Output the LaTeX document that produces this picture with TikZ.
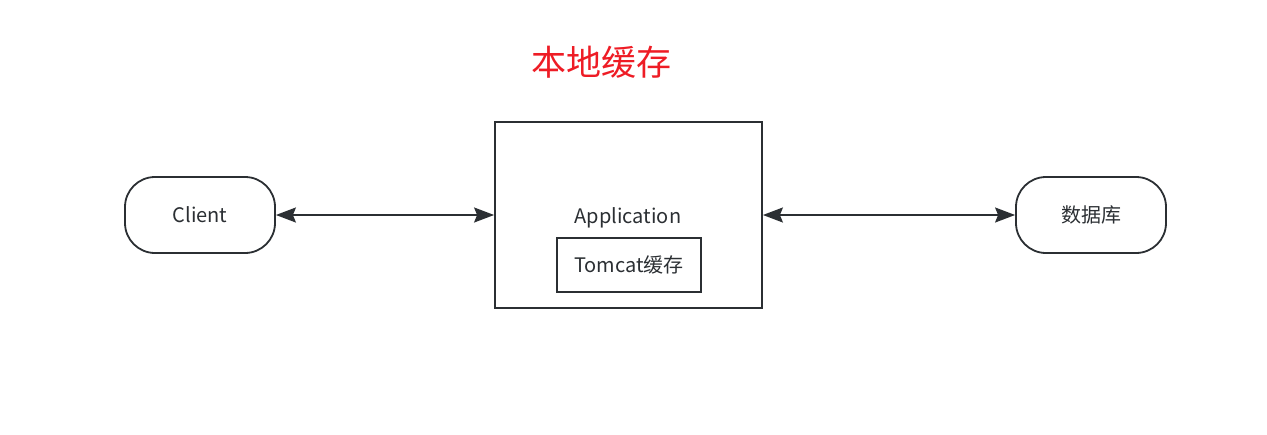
\documentclass[tikz,border=0pt]{standalone}
\usepackage{fontspec}
\setmainfont{Noto Sans CJK SC}
\usetikzlibrary{arrows.meta}
\definecolor{ink}{HTML}{2B2F33}
\definecolor{titlered}{HTML}{EE1C25}
\tikzset{
  term/.style={draw=ink, line width=1.8pt, rounded corners=30pt, minimum width=150pt, minimum height=76pt, inner sep=0pt, font=\fontsize{20}{24}\selectfont, text=ink},
  boxnode/.style={draw=ink, line width=1.8pt, inner sep=0pt},
  lbl/.style={font=\fontsize{20}{24}\selectfont, text=ink, inner sep=0pt},
  link/.style={draw=ink, line width=1.8pt, {Stealth[length=20pt,width=15pt,inset=3pt]}-{Stealth[length=20pt,width=15pt,inset=3pt]}}
}
\begin{document}
\begin{tikzpicture}[x=1pt,y=-1pt]
\useasboundingbox (0,0) rectangle (1267,434);
\node[font=\fontsize{35}{40}\selectfont, text=titlered, inner sep=0pt] (title) at (601,62) {本地缓存};
\node[term] (client) at (200,215) {\raisebox{-2pt}{Client}};
\node[boxnode, minimum width=267pt, minimum height=186pt] (app) at (628.5,215) {};
\node[lbl] (applabel) at (628,218) {Application};
\node[boxnode, minimum width=144pt, minimum height=54pt, font=\fontsize{20}{24}\selectfont, text=ink] (tomcat) at (629,265) {\raisebox{-2pt}{Tomcat缓存}};
\node[term] (db) at (1091,215) {\raisebox{-1pt}{数据库}};
\draw[link] (client.east) -- (app.west);
\draw[link] (app.east) -- (db.west);
\end{tikzpicture}
\end{document}
